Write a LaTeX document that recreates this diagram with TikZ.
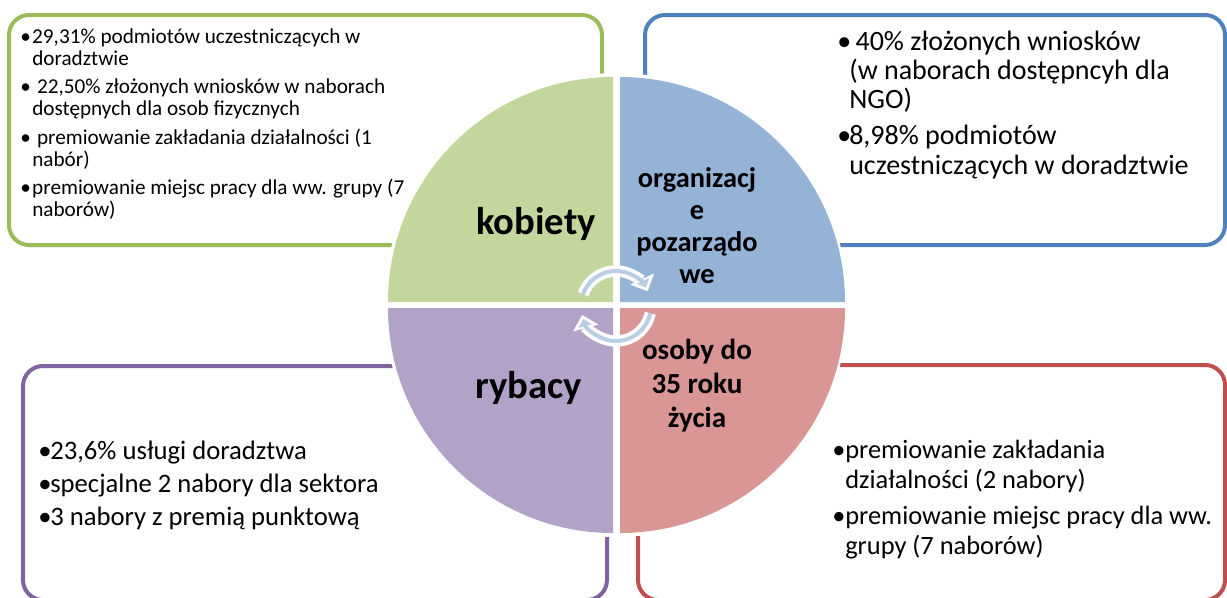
\documentclass[tikz,border=0pt]{standalone}
\usepackage{fontspec}
\setmainfont{Carlito}
\usetikzlibrary{arrows.meta}
\definecolor{gfill}{HTML}{C3D69B}
\definecolor{bfill}{HTML}{95B3D7}
\definecolor{pfill}{HTML}{B2A2C7}
\definecolor{rfill}{HTML}{D99694}
\definecolor{gline}{HTML}{9BBB59}
\definecolor{bline}{HTML}{4F81BD}
\definecolor{pline}{HTML}{8064A2}
\definecolor{rline}{HTML}{C0504D}
\definecolor{arrfill}{HTML}{B9CDE5}
\newcommand\bulx[1]{\makebox[#1][l]{•}}
\newcommand\indx[1]{\hspace*{#1}}
\begin{document}
\begin{tikzpicture}[x=0.75pt,y=-0.75pt,
 infobox/.style={line width=3pt, rounded corners=15pt},
 lbl/.style={align=center, inner sep=0pt, text=black},
 txt/.style={align=left, inner sep=0pt, anchor=base west, text=black},
 arrwhite/.style={white, line width=8.5pt, -{Triangle[length=10pt,width=19pt]}},
 arrblue/.style={arrfill, line width=3pt, shorten >=3pt, -{Triangle[length=5.5pt,width=10pt]}}]
\useasboundingbox (0,0) rectangle (1227,597);
\clip (0,0) rectangle (1227,597);
% boxes
\draw[infobox, gline] (9,15) rectangle (602,245);
\draw[infobox, bline] (645,15) rectangle (1225,245);
\draw[infobox, pline] (23,366) rectangle (607,600);
\draw[infobox, rline] (638,365) rectangle (1225,600);
% circle
\fill[white] (616,305) circle[radius=232];
\fill[gfill] (613,302) -- ++(-225,0) arc[start angle=180,end angle=270,radius=225] -- cycle;
\fill[bfill] (620,302) -- ++(225,0) arc[start angle=0,end angle=-90,radius=225] -- cycle;
\fill[pfill] (613,308) -- ++(-225,0) arc[start angle=180,end angle=90,radius=225] -- cycle;
\fill[rfill] (620,308) -- ++(225,0) arc[start angle=0,end angle=90,radius=225] -- cycle;
% labels
\node[lbl, font=\fontsize{29}{30}\selectfont\bfseries] (kob) at (536,224) {kobiety};
\node[lbl, font=\fontsize{29}{30}\selectfont\bfseries] (ryb) at (529,388) {rybacy};
\node[lbl, font=\fontsize{21.3}{24}\selectfont\bfseries] (ngo) at (697,226) {organizacj\\e\\pozarządo\\we};
\node[lbl, font=\fontsize{21.8}{25.5}\selectfont\bfseries] (mlo) at (697,386) {osoby do\\35 roku\\życia};
% circular arrows
\coordinate (ac) at (616,306);
\draw[arrwhite] (ac) ++(-160:35) arc[start angle=-160,end angle=-25,radius=35];
\draw[arrblue] (ac) ++(-160:35) arc[start angle=-160,end angle=-25,radius=35];
\draw[arrwhite] (ac) ++(12:35) arc[start angle=12,end angle=165,radius=35];
\draw[arrblue] (ac) ++(12:35) arc[start angle=12,end angle=165,radius=35];
% texts (anchored at the baseline of their last line)
\node[txt, font=\fontsize{15.9}{16.5}\selectfont] (gtxt) at (20,216.6)
 {\bulx{9pt}29,31\% podmiotów uczestniczących w\\
  \indx{9pt}doradztwie\\[4.9pt]
  \bulx{9pt}\ 22,50\% złożonych wniosków w naborach\\
  \indx{9pt}dostępnych dla osob fizycznych\\[4.9pt]
  \bulx{9pt}\ premiowanie zakładania działalności (1\\
  \indx{9pt}nabór)\\[4.9pt]
  \bulx{9pt}premiowanie miejsc pracy dla ww. grupy (7\\
  \indx{9pt}naborów)};
\node[txt, font=\fontsize{21}{22}\selectfont] (btxt) at (837,174)
 {\bulx{9pt}\ 40\% złożonych wniosków\\
  \indx{9pt}(w naborach dostępncyh dla\\
  \indx{9pt}NGO)\\[5pt]
  \bulx{9pt}8,98\% podmiotów\\
  \indx{9pt}uczestniczących w doradztwie};
\node[txt, font=\fontsize{20}{24.75}\selectfont] (ptxt) at (38,525)
 {\bulx{9pt}23,6\% usługi doradztwa\\
  \bulx{9pt}specjalne 2 nabory dla sektora\\
  \bulx{9pt}3 nabory z premią punktową};
\node[txt, font=\fontsize{19.8}{22.5}\selectfont] (rtxt) at (832,554)
 {\bulx{9.75pt}premiowanie zakładania\\
  \indx{9.75pt}działalności (2 nabory)\\[4.5pt]
  \bulx{9.75pt}premiowanie miejsc pracy dla ww.\\
  \indx{9.75pt}grupy (7 naborów)};
\end{tikzpicture}
\end{document}
